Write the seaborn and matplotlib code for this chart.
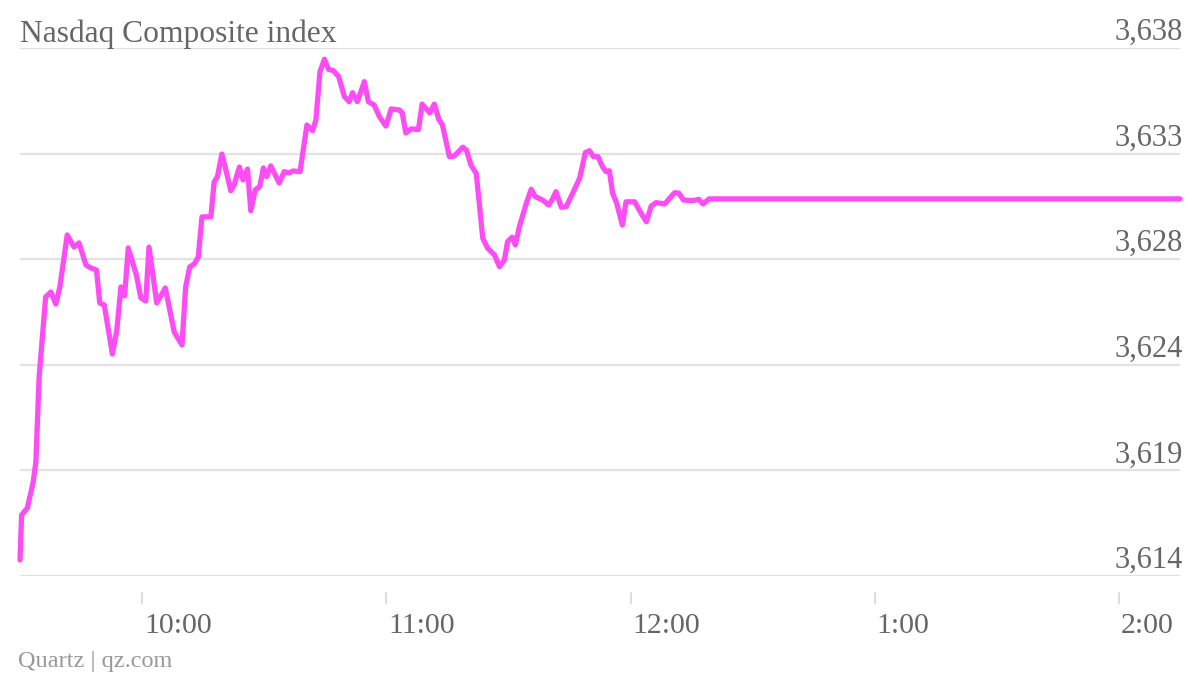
import matplotlib
matplotlib.use("Agg")
import matplotlib.pyplot as plt
import matplotlib.transforms as mtransforms
import seaborn as sns

# minutes after 9:30
minutes = [
    0, 0.4, 1.8, 3.2, 3.9, 4.7, 6.3, 7.6, 8.8, 9.8,
    11.6, 13.3, 14.5, 16.2, 17.4, 18.8, 19.6, 20.7, 22.7, 23.8,
    24.8, 25.7, 26.6, 28.6, 29.7, 30.9, 31.7, 33.6, 35.7, 37.9,
    39.8, 40.7, 41.7, 42.8, 43.8, 44.7, 46.9, 47.7, 48.5, 49.6,
    50.6, 51.8, 52.6, 53.9, 54.8, 55.9, 56.7, 57.8, 58.9, 59.8,
    60.6, 61.6, 63.7, 64.9, 66.1, 67.1, 68.8, 70.5, 71.9, 72.7,
    73.7, 74.8, 75.8, 77.0, 78.3, 79.7, 80.9, 81.7, 82.9, 84.6,
    85.6, 87.0, 88.3, 89.9, 91.2, 93.2, 93.9, 94.8, 96.1, 97.9,
    98.8, 100.7, 101.8, 102.9, 103.8, 105.5, 106.7, 108.8, 109.7, 110.8,
    112.1, 113.7, 114.9, 116.6, 117.8, 119.0, 119.8, 120.9, 121.7, 122.7,
    124.4, 125.6, 126.6, 128.4, 129.9, 130.7, 131.7, 133.0, 134.2, 135.8,
    137.5, 138.9, 139.9, 140.9, 142.0, 143.2, 144.0, 144.8, 145.6, 146.6,
    148.0, 148.9, 151.0, 152.6, 153.9, 155.1, 156.3, 158.4, 160.8, 161.9,
    163.0, 165.3, 166.8, 167.8, 169.3, 285,
]
index_values = [
    3614.73, 3616.77, 3617.09, 3618.23, 3619.18, 3623.05, 3626.68, 3626.91, 3626.36, 3627.14,
    3629.50, 3628.95, 3629.14, 3628.14, 3628.00, 3627.91, 3626.41, 3626.32, 3624.09, 3625.18,
    3627.14, 3626.73, 3628.91, 3627.68, 3626.64, 3626.50, 3628.95, 3626.41, 3627.09, 3625.09,
    3624.50, 3627.14, 3628.05, 3628.18, 3628.50, 3630.32, 3630.33, 3631.91, 3632.14, 3633.18,
    3632.45, 3631.51, 3631.77, 3632.59, 3632.00, 3632.50, 3630.60, 3631.55, 3631.70, 3632.55,
    3632.15, 3632.64, 3631.86, 3632.38, 3632.32, 3632.41, 3632.38, 3634.50, 3634.24, 3634.73,
    3636.92, 3637.49, 3637.03, 3636.97, 3636.70, 3635.79, 3635.56, 3635.97, 3635.56, 3636.47,
    3635.56, 3635.41, 3634.88, 3634.45, 3635.23, 3635.18, 3635.06, 3634.14, 3634.32, 3634.30,
    3635.45, 3635.05, 3635.45, 3634.76, 3634.50, 3633.06, 3633.09, 3633.49, 3633.36, 3632.68,
    3632.30, 3629.35, 3628.90, 3628.59, 3628.06, 3628.36, 3629.20, 3629.40, 3629.05, 3629.88,
    3630.94, 3631.58, 3631.24, 3631.09, 3630.86, 3631.09, 3631.47, 3630.76, 3630.79, 3631.40,
    3632.08, 3633.24, 3633.33, 3633.06, 3633.06, 3632.58, 3632.38, 3632.42, 3631.40, 3630.94,
    3629.95, 3631.01, 3631.01, 3630.49, 3630.10, 3630.82, 3630.97, 3630.91, 3631.42, 3631.40,
    3631.09, 3631.06, 3631.12, 3630.91, 3631.14, 3631.14,
]

x_ticks = [30, 90, 150, 210, 270]
x_labels = ["10:00", "11:00", "12:00", "1:00", "2:00"]
y_ticks = [3614, 3618.8, 3623.6, 3628.4, 3633.2, 3638]

LINE = "#fc4cf4"
TEXT = "#666666"
SERIF = ["Liberation Serif", "DejaVu Serif"]

sns.set_style("white")
plt.rcParams["font.family"] = SERIF

fig = plt.figure(figsize=(12, 6.76), dpi=100)
ax = fig.add_axes([20 / 1200, 1 - 576 / 676, 1160 / 1200, 528 / 676])

sns.lineplot(x=minutes, y=index_values, ax=ax, color=LINE, linewidth=3.8,
             estimator=None, sort=False)
for l in ax.lines:
    l.set_solid_capstyle("round")
    l.set_solid_joinstyle("round")
    l.set_clip_on(False)

ax.set_xlim(0, 285)
ax.set_ylim(3614, 3638)
ax.set_yticks(y_ticks)
ax.set_xticks([])
ax.tick_params(left=False, labelleft=False, bottom=False, labelbottom=False)
ax.grid(axis="y", color="#e2e2e2", linewidth=1.6)
ax.grid(axis="x", visible=False)
ax.set_axisbelow(True)
sns.despine(ax=ax, left=True, bottom=True)

# y labels sit on top of gridlines at the right edge
ytrans = mtransforms.offset_copy(ax.get_yaxis_transform(), fig=fig, x=3, y=8, units="dots")
for v in y_ticks:
    ax.text(1.0, v, f"{round(v):,}", transform=ytrans, ha="right", va="baseline",
            fontsize=22, color=TEXT)

# x ticks below the plot, labels left aligned on the tick
xtrans = ax.get_xaxis_transform()
for t, lab in zip(x_ticks, x_labels):
    ax.plot([t, t], [-0.032, -0.051], transform=xtrans, color="#dcdcdc",
            linewidth=1.5, clip_on=False)
    ax.text(t, -0.108, lab, transform=mtransforms.offset_copy(xtrans, fig=fig, x=2, units="dots"),
            ha="left", va="baseline", fontsize=21.5, color=TEXT)

fig.text(20 / 1200, 1 - 42 / 676, "Nasdaq Composite index", ha="left", va="baseline",
         fontsize=22.7, color=TEXT)
fig.text(18 / 1200, 1 - 667 / 676, "Quartz | qz.com", ha="left", va="baseline",
         fontsize=17.5, color="#999999")

fig.savefig("out.png", dpi=100, facecolor="white")
